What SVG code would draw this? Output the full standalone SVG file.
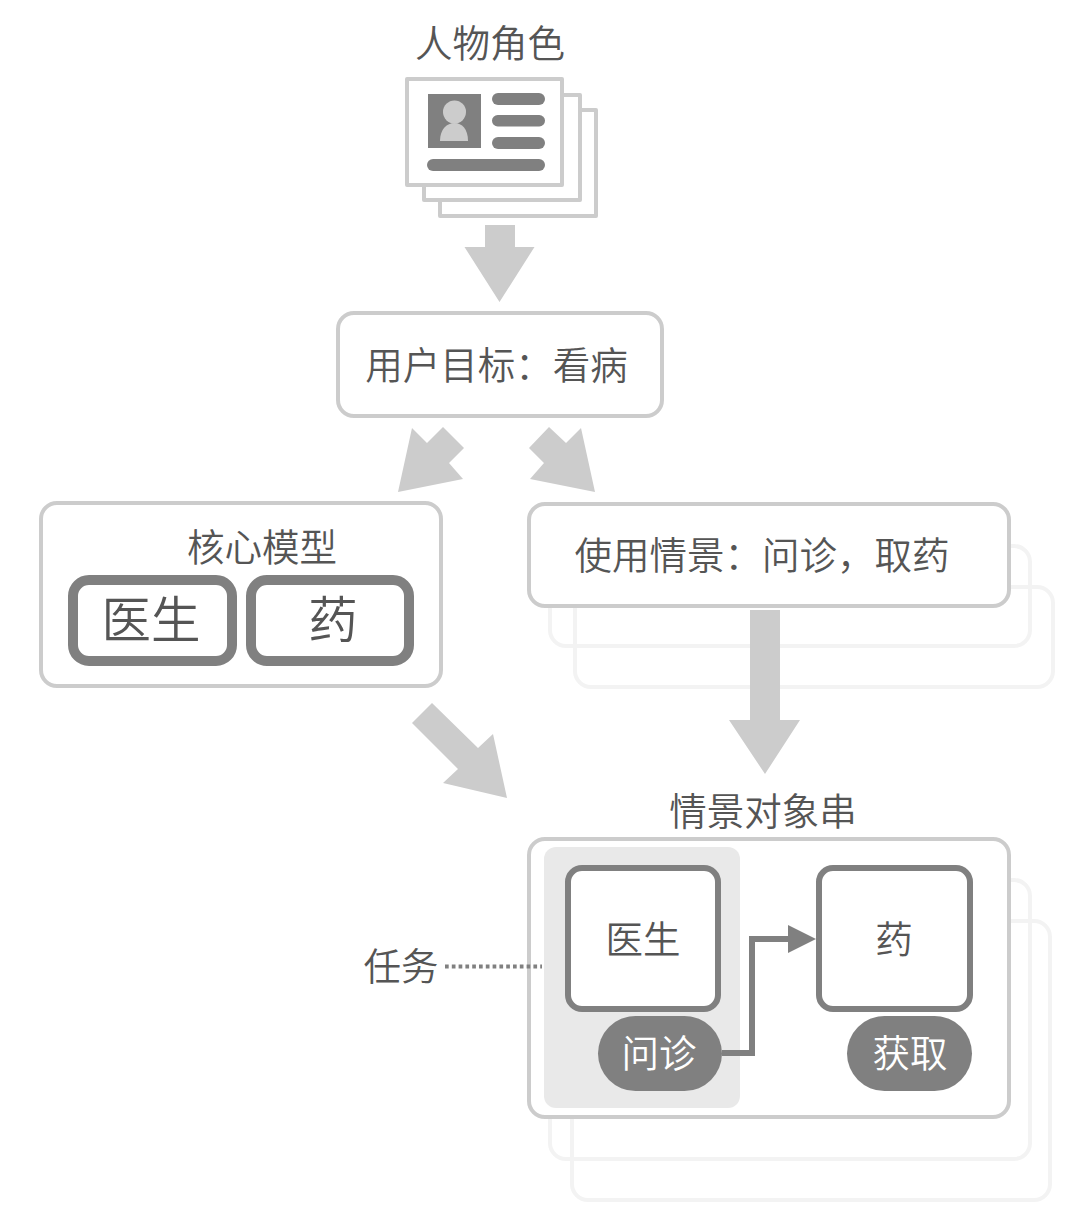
<svg xmlns="http://www.w3.org/2000/svg" width="1092" height="1218" viewBox="0 0 1092 1218">
<style>
text{font-family:"Noto Sans CJK SC","Noto Sans",sans-serif;font-size:37.500px;fill:#555;font-weight:350;text-anchor:middle}
.big{font-size:49.500px}
.w{fill:#fff}
.box{fill:#fff;stroke:#ccc;stroke-width:4}
.card{fill:#fff;stroke:#ccc;stroke-width:4;stroke-linejoin:round}
.ghost{fill:none;stroke:#f3f3f3;stroke-width:4}
.ent{fill:#fff;stroke:#808080;stroke-width:10}
.obj{fill:#fff;stroke:#808080;stroke-width:6}
.dk{fill:#808080}
.arr{fill:#ccc}
</style>
<rect width="1092" height="1218" fill="#fff"/>
<g id="persona">
<rect class="card" x="440" y="110" width="156" height="106"/>
<rect class="card" x="424" y="95" width="156" height="105"/>
<rect class="card" x="407" y="79" width="155" height="106"/>
<rect class="dk" x="428" y="94" width="53" height="54"/>
<circle cx="454.500" cy="112" r="11.500" fill="#ccc"/>
<path d="M440 141C440 129 447 123 454.500 123C462 123 468 129 468 141Z" fill="#ccc"/>
<rect class="dk" x="492" y="93" width="53" height="12" rx="6"/>
<rect class="dk" x="492" y="115" width="53" height="11.500" rx="5.700"/>
<rect class="dk" x="492" y="137" width="53" height="12" rx="6"/>
<rect class="dk" x="427" y="159" width="118" height="12" rx="6"/>
<text x="490" y="57">人物角色</text>
</g>
<g id="goal">
<rect class="box" x="338" y="313" width="324" height="103" rx="16"/>
<text x="496.500" y="379">用户目标：看病</text>
</g>
<g id="core-model">
<rect class="box" x="41" y="503" width="400" height="183" rx="16"/>
<text x="262" y="561">核心模型</text>
<rect class="ent" x="73" y="580" width="159" height="81" rx="16"/>
<rect class="ent" x="251" y="580" width="158" height="81" rx="16"/>
<text class="big" x="151" y="638">医生</text>
<text class="big" x="333" y="638">药</text>
</g>
<g id="scenario">
<rect class="ghost" x="575" y="587" width="478" height="100" rx="16"/>
<rect class="ghost" x="550" y="546" width="480" height="100" rx="16"/>
<rect class="box" x="529" y="504" width="480" height="102" rx="16"/>
<text x="762" y="569">使用情景：问诊，取药</text>
</g>
<g id="task-string">
<text x="763" y="825">情景对象串</text>
<rect class="ghost" x="572" y="921" width="478" height="279" rx="16"/>
<rect class="ghost" x="550" y="880" width="480" height="279" rx="16"/>
<rect class="box" x="529" y="839" width="480" height="278" rx="16"/>
</g>
<g id="task">
<rect x="544" y="847" width="196" height="261" rx="12" fill="#e9e9e9"/>
</g>
<g id="doctor">
<rect class="obj" x="568" y="868" width="150" height="141" rx="14"/>
<text x="643" y="953">医生</text>
</g>
<g id="medicine">
<rect class="obj" x="819" y="868" width="151" height="141" rx="14"/>
<text x="894" y="953">药</text>
</g>
<g id="consult">
<rect class="dk" x="598" y="1016" width="124" height="75" rx="37.500"/>
<text class="w" x="659" y="1067">问诊</text>
</g>
<g id="fetch">
<rect class="dk" x="847" y="1016" width="125" height="75" rx="37.500"/>
<text class="w" x="910" y="1067">获取</text>
</g>
<g id="task-label">
<text x="401" y="980">任务</text>
</g>
<g id="connectors">
<path class="arr" d="M485 225H515V247H534.500L499.500 302L464.500 247H485Z"/>
<path class="arr" d="M398 492L412 428L427 443L443 427L464 448L449 463L463 479Z"/>
<path class="arr" d="M595 492L581 428L566 443L549 427L529 448L544 463L530 479Z"/>
<path class="arr" d="M432 703L412 723L458 769L443 783L507 798L493 734L478 748Z"/>
<path class="arr" d="M750 610H780V720H800L765 774L729 720H750Z"/>
<path d="M722 1053H752V939H790" fill="none" stroke="#808080" stroke-width="6"/>
<path class="dk" d="M788 925L816 939L788 953Z"/>
<path d="M445 966.500H542" fill="none" stroke="#808080" stroke-width="4" stroke-dasharray="3.700 3.100"/>
</g>
</svg>
